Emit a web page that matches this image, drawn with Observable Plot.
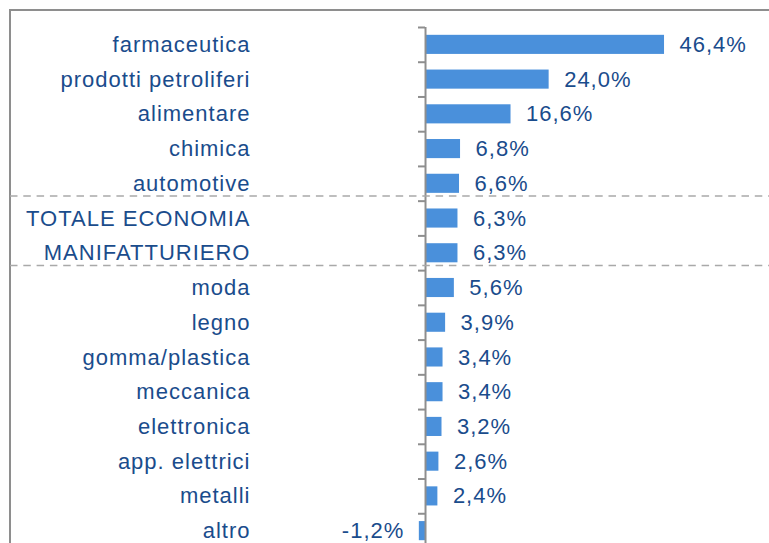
<!DOCTYPE html>
<html>
<head>
<meta charset="utf-8">
<script src="https://cdn.jsdelivr.net/npm/d3@7"></script>
<script src="https://cdn.jsdelivr.net/npm/@observablehq/plot@0.6"></script>
<style>
  html, body { margin: 0; padding: 0; background: #fff; overflow: hidden; width: 769px; height: 543px; }
  #wrap { position: relative; width: 769px; height: 543px; overflow: hidden; }
  #frame { position: absolute; left: 9px; top: 9px; width: 900px; height: 700px;
           border-top: 2px solid #8e8e8e; border-left: 2px solid #8e8e8e; }
  #chart { position: absolute; left: 0; top: 0; }
  #chart svg text { letter-spacing: 1px; }
</style>
</head>
<body>
<div id="wrap"><div id="frame"></div><div id="chart"></div></div>
<script>
const categories = ["farmaceutica", "prodotti petroliferi", "alimentare", "chimica", "automotive",
  "TOTALE ECONOMIA", "MANIFATTURIERO", "moda", "legno", "gomma/plastica", "meccanica",
  "elettronica", "app. elettrici", "metalli", "altro"];
const values = [46.4, 24.0, 16.6, 6.8, 6.6, 6.3, 6.3, 5.6, 3.9, 3.4, 3.4, 3.2, 2.6, 2.4, -1.2];
const separatorsBefore = ["TOTALE ECONOMIA", "moda"];

const data = categories.map((c, i) => ({cat: c, value: values[i]}));
const fmt = v => v.toFixed(1).replace(".", ",") + "%";
const blue = "#4a90db";
const textBlue = "#1a4c8c";
const grey = "#8e8e8e";

const chart = Plot.plot({
  width: 769,
  height: 548,
  marginLeft: 10,
  marginRight: 0,
  marginTop: 27,
  marginBottom: 0,
  style: {fontFamily: "'Liberation Sans', Arial, sans-serif", fontSize: "22px", background: "transparent", overflow: "visible"},
  x: {domain: [-80.57, 66.78], axis: null},
  y: {type: "band", domain: categories, paddingInner: 0.45, paddingOuter: 0.225, round: false, axis: null, label: null},
  marks: [
    Plot.barX(data, {x: "value", y: "cat", fill: blue}),
    Plot.ruleX([0], {stroke: grey, strokeWidth: 2}),
    Plot.axisY({tickSize: 7, text: null, label: null, dx: 415, dy: -17.37, stroke: grey, strokeWidth: 2, strokeOpacity: 1}),
    Plot.axisY({tickSize: 0, tickPadding: 0, label: null, dx: 240, fill: textBlue, fontSize: 22, textAnchor: "end"}),
    Plot.ruleY(separatorsBefore, {y: d => d, dy: -22.5, stroke: "#a9a9a9", strokeWidth: 1.6, strokeDasharray: "7.5,5.8"}),
    Plot.text(data.filter(d => d.value >= 0), {x: "value", y: "cat", text: d => fmt(d.value), dx: 15, textAnchor: "start", fill: textBlue, fontSize: 22}),
    Plot.text(data.filter(d => d.value < 0), {x: "value", y: "cat", text: d => fmt(d.value), dx: -15, textAnchor: "end", fill: textBlue, fontSize: 22})
  ]
});
document.getElementById("chart").appendChild(chart);
</script>
</body>
</html>
